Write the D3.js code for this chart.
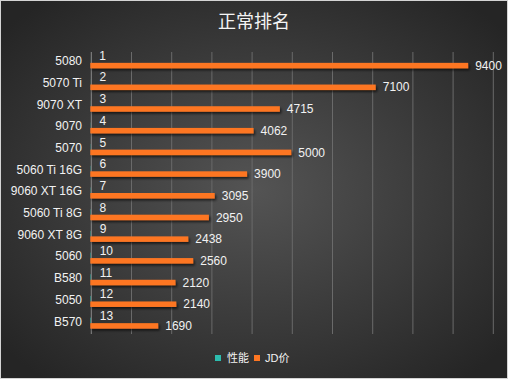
<!DOCTYPE html>
<html>
<head>
<meta charset="utf-8">
<script src="https://cdn.jsdelivr.net/npm/d3@7"></script>
<style>
  html, body { margin: 0; padding: 0; background: #fff; }
  svg { display: block; }
  text { font-family: "Liberation Sans", Arial, "Noto Sans CJK SC", sans-serif; }
</style>
</head>
<body>
<svg class="main"></svg>
<script>
// data
var cards = ['5080', '5070 Ti', '9070 XT', '9070', '5070', '5060 Ti 16G', '9060 XT 16G',
  '5060 Ti 8G', '9060 XT 8G', '5060', 'B580', '5050', 'B570']
var perf = [1, 2, 3, 4, 5, 6, 7, 8, 9, 10, 11, 12, 13]
var price = [9400, 7100, 4715, 4062, 5000, 3900, 3095, 2950, 2438, 2560, 2120, 2140, 1690]
var seriesNames = ['性能', 'JD价']
var xTicks = [0, 1000, 2000, 3000, 4000, 5000, 6000, 7000, 8000, 9000, 10000]
var title = '正常排名'

const W = 508, H = 379
var colors = ['#2cbcae', '#fd7622']

var svg = d3.select('svg.main')
  .attr('width', W)
  .attr('height', H)

var defs = svg.append('defs')
var grad = defs.append('radialGradient')
  .attr('id', 'bg')
  .attr('cx', '50%').attr('cy', '50%').attr('r', '65%')
grad.append('stop').attr('offset', '0%').attr('stop-color', '#545454')
grad.append('stop').attr('offset', '100%').attr('stop-color', '#252525')

var shadow = defs.append('filter')
  .attr('id', 'shadow')
  .attr('x', '-5%').attr('y', '-50%').attr('width', '120%').attr('height', '250%')
shadow.append('feDropShadow')
  .attr('dx', 1.5).attr('dy', 2)
  .attr('stdDeviation', 1.2)
  .attr('flood-color', '#000')
  .attr('flood-opacity', 0.6)

svg.append('rect')
  .attr('x', 0.5).attr('y', 0.5)
  .attr('width', W - 1).attr('height', H - 1)
  .attr('fill', 'url(#bg)')
  .attr('stroke', '#d4d4d4')

// title
svg.append('text')
  .attr('x', W / 2)
  .attr('y', 22)
  .attr('dy', '0.35em')
  .attr('text-anchor', 'middle')
  .attr('fill', '#f4f4f4')
  .attr('font-size', 18)
  .style('font-family', '"Noto Sans CJK SC", sans-serif')
  .text(title)

const margin = {top: 52, right: 16, bottom: 45, left: 90}
const width = 492 - margin.left
const height = 334 - margin.top

var body = svg.append('g')
  .attr('transform', `translate(${margin.left}, ${margin.top})`)

var xScale = d3.scaleLinear()
  .domain([0, 10000])
  .range([0.3, width + 0.3])

var yScale = d3.scaleBand()
  .domain(cards)
  .range([0, height])

var yInner = d3.scaleBand()
  .domain(seriesNames)
  .range([yScale.bandwidth() / 2 - 5.5, yScale.bandwidth() / 2 + 5.5])

// grid
var grid = body.append('g')
  .call(d3.axisBottom(xScale).tickValues(xTicks).tickSize(height).tickFormat(''))
grid.select('.domain').remove()
grid.selectAll('line')
  .attr('stroke', '#6a6a6a')
  .attr('stroke-width', 1)
  .attr('transform', 'translate(0.5,0)')
grid.selectAll('line').filter(d => d == 0).attr('stroke', '#8a8a8a')

// category labels
var yAxis = body.append('g')
  .call(d3.axisLeft(yScale).tickSize(0).tickPadding(8))
yAxis.select('.domain').remove()
yAxis.selectAll('text')
  .attr('fill', '#f2f2f2')
  .attr('font-size', 12)
  .attr('dy', '0.2em')
  .style('font-family', '"Liberation Sans", Arial, sans-serif')

var rows = cards.map((c, i) => ({card: c, values: [perf[i], price[i]]}))

var groups = body.selectAll('g.row')
  .data(rows).enter()
  .append('g')
  .attr('class', 'row')
  .attr('transform', d => `translate(0, ${yScale(d.card)})`)

groups.selectAll('rect')
  .data(d => d.values.map((v, j) => ({key: seriesNames[j], value: v})))
  .join('rect')
  .attr('x', xScale(0))
  .attr('y', d => yInner(d.key))
  .attr('width', d => xScale(d.value) - xScale(0))
  .attr('height', yInner.bandwidth())
  .attr('fill', (d, j) => colors[j])
  .attr('filter', 'url(#shadow)')

groups.selectAll('text.val')
  .data(d => d.values.map((v, j) => ({key: seriesNames[j], value: v})))
  .join('text')
  .attr('class', 'val')
  .attr('x', d => xScale(d.value) + (d.key == '性能' ? 9 : 7))
  .attr('y', d => yInner(d.key) + yInner.bandwidth() / 2 + (d.key == '性能' ? -4.5 : 0))
  .attr('dy', '0.35em')
  .attr('fill', '#f2f2f2')
  .attr('font-size', 12)
  .text(d => d.value)

// legend
var legend = svg.append('g')
  .attr('transform', 'translate(215, 358)')
var lx = [0, 39]
seriesNames.forEach(function(name, i) {
  var g = legend.append('g').attr('transform', `translate(${lx[i]}, 0)`)
  g.append('rect')
    .attr('x', 0).attr('y', -3)
    .attr('width', 6).attr('height', 6)
    .attr('fill', colors[i])
  g.append('text')
    .attr('x', i == 0 ? 12 : 11)
    .attr('y', 0)
    .attr('dy', '0.35em')
    .attr('fill', '#f2f2f2')
    .attr('font-size', 11)
    .style('font-family', '"Liberation Sans", Arial, "Noto Sans CJK SC", sans-serif')
    .text(name)
})
</script>
</body>
</html>
